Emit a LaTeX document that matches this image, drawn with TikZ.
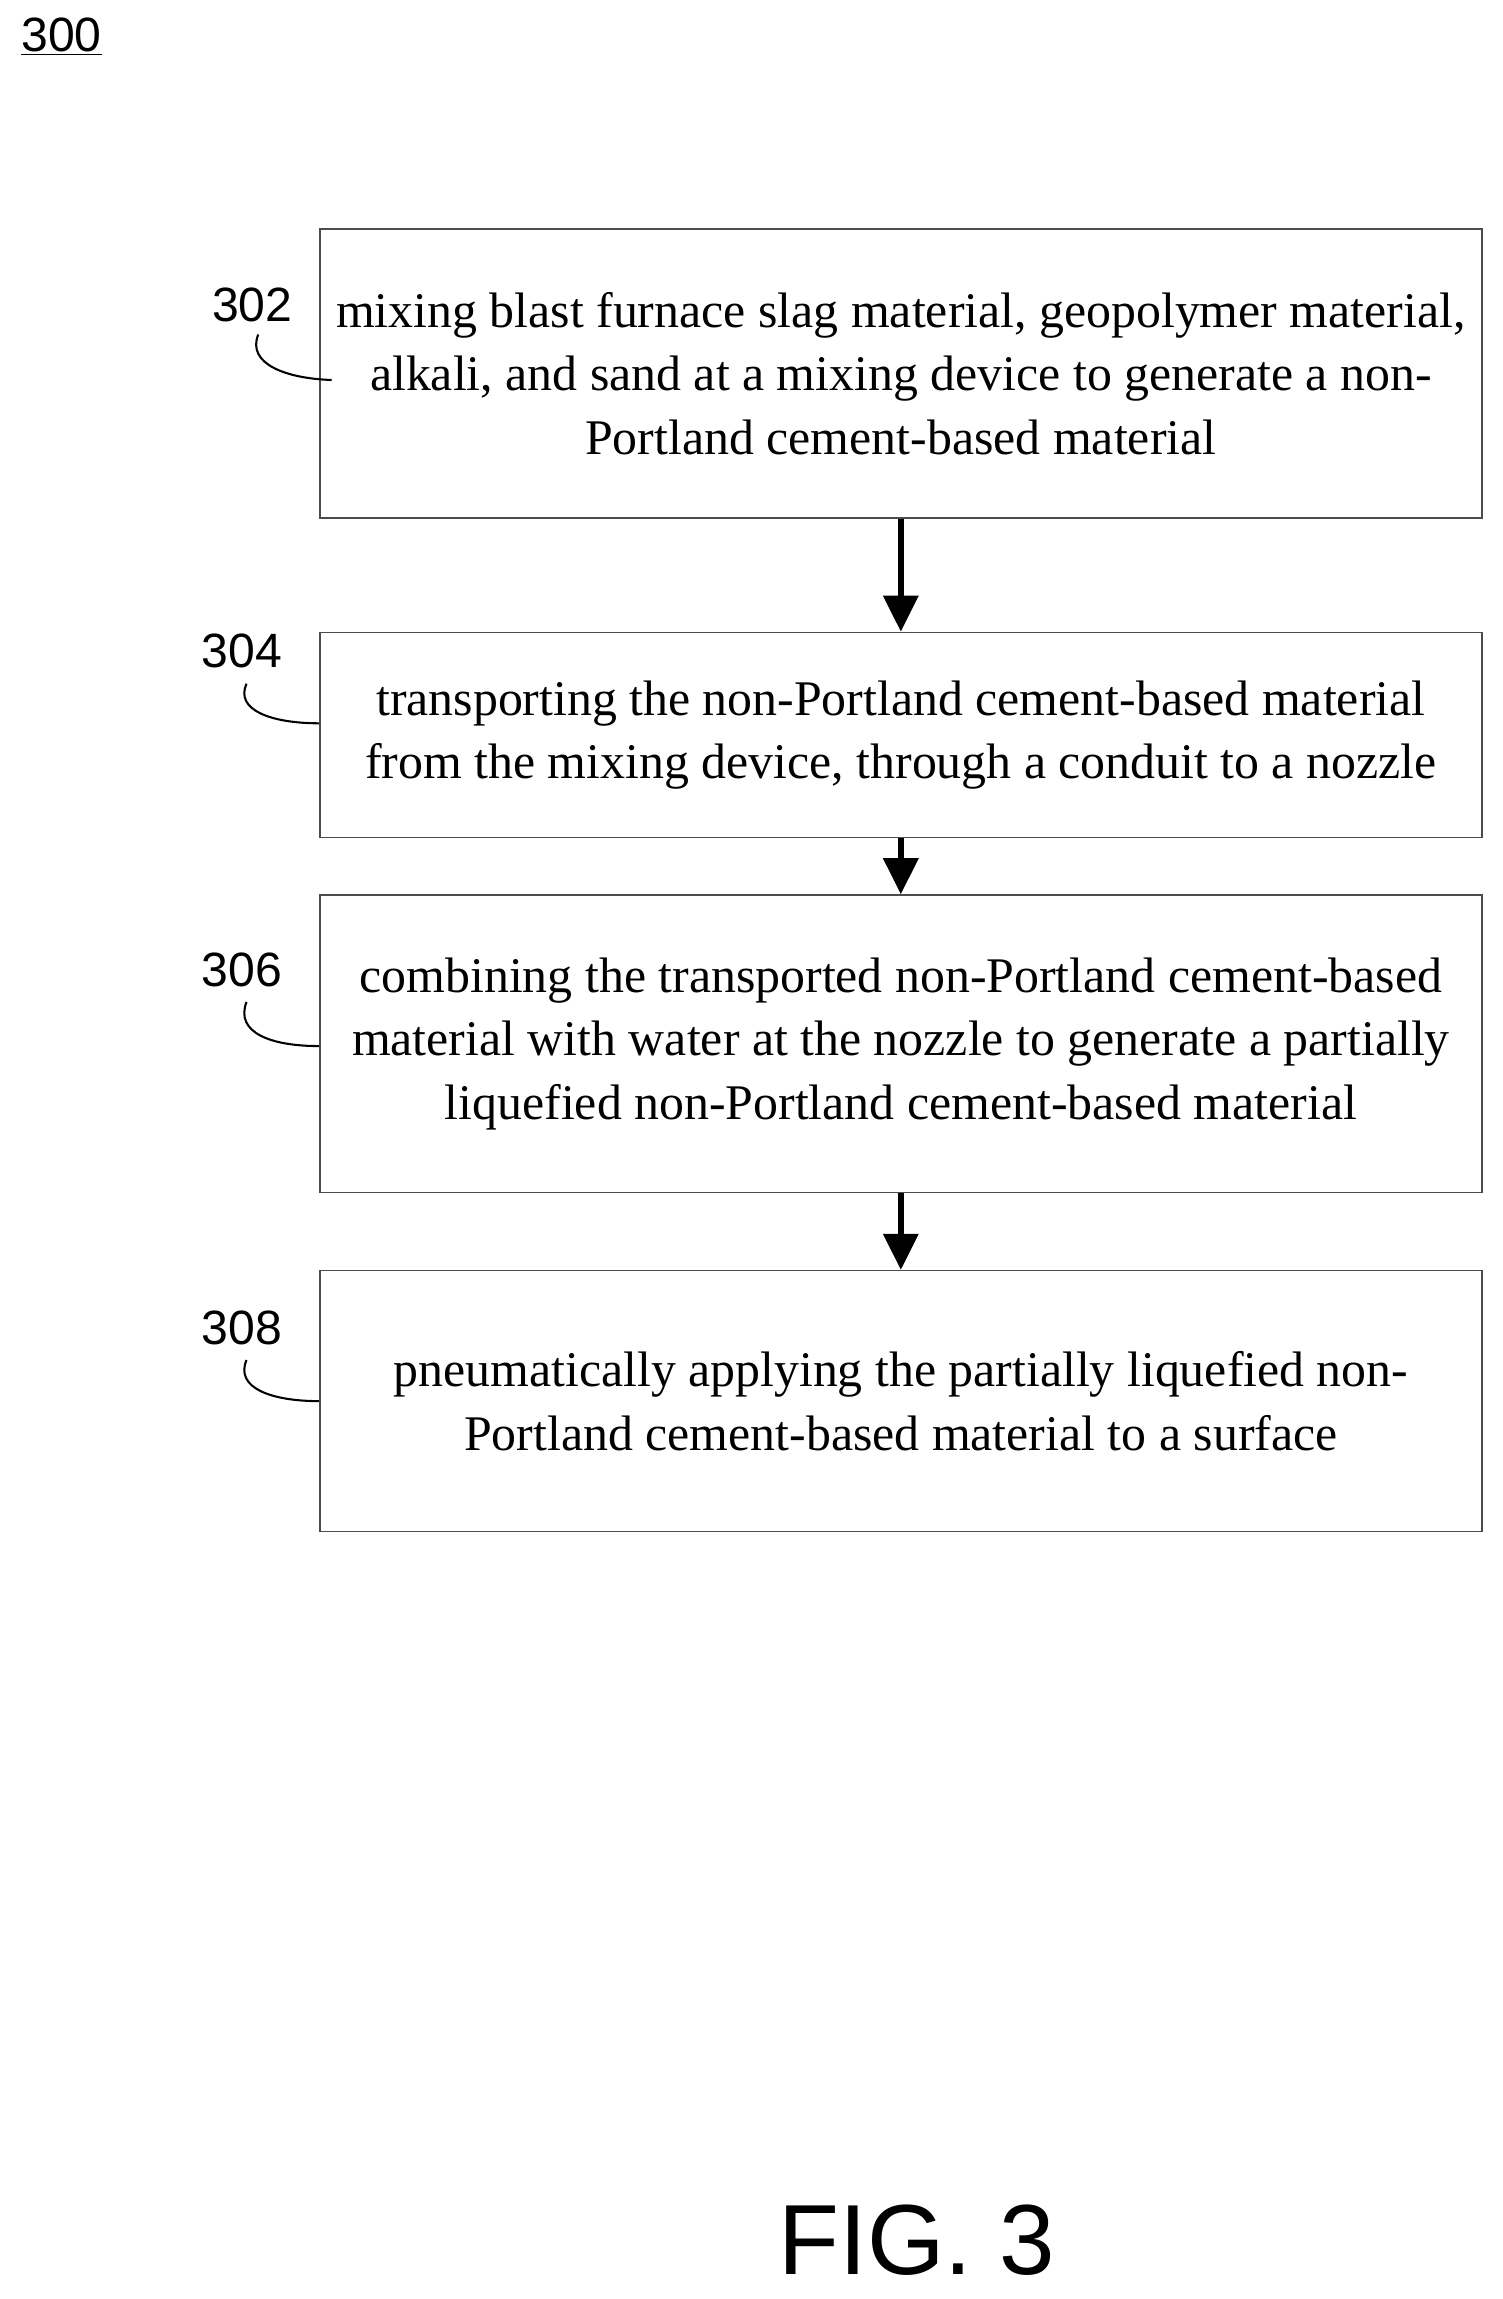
\documentclass[tikz,border=0pt]{standalone}
\usepackage{fontspec}
\setmainfont{Liberation Serif}
\newfontfamily\lab{Liberation Sans}
\usetikzlibrary{arrows.meta}
\begin{document}
\begin{tikzpicture}[x=0.03cm,y=-0.03cm,
  box/.style={draw=black!70,line width=0.8pt,minimum width=792*0.03cm,align=center,font=\fontsize{29}{37}\selectfont,inner sep=0pt},
  lbl/.style={font=\lab\fontsize{28}{30}\selectfont},
  arr/.style={line width=3.4pt,-{Triangle[length=21pt,width=20pt]}},
  lead/.style={line width=1.2pt}]
\useasboundingbox (0,0) rectangle (1024,1567);
\node[box,minimum height=197*0.03cm] (b1) at (614,254.5) {mixing blast furnace slag material, geopolymer material,\\alkali, and sand at a mixing device to generate a non-\\Portland cement-based material};
\node[box,minimum height=140*0.03cm] (b2) at (614,501) {transporting the non-Portland cement-based material\\from the mixing device, through a conduit to a nozzle};
\node[box,minimum height=203*0.03cm] (b3) at (614,711.5) {combining the transported non-Portland cement-based\\material with water at the nozzle to generate a partially\\liquefied non-Portland cement-based material};
\node[box,minimum height=178*0.03cm] (b4) at (614,955) {pneumatically applying the partially liquefied non-\\Portland cement-based material to a surface};
\draw[arr] (b1.south) -- (b2.north);
\draw[arr] (b2.south) -- (b3.north);
\draw[arr] (b3.south) -- (b4.north);
\node[lbl] (l302) at (172,208) {302};
\node[lbl] (l304) at (165,444) {304};
\node[lbl] (l306) at (165,661) {306};
\node[lbl] (l308) at (165,905) {308};
\coordinate (e302) at (226,259);
\draw[lead] (176,228) .. controls (168,248) and (195,258) .. (e302);
\draw[lead] (168,466) .. controls (160,484) and (185,493) .. (b2.west |- 0,493);
\draw[lead] (168,683) .. controls (160,704) and (185,713) .. (b3.west |- 0,713);
\draw[lead] (168,927) .. controls (160,946) and (185,955) .. (b4.west |- 0,955);
\node[lbl] (l300) at (42,25) {\underline{300}};
\node[font=\lab\fontsize{58}{64}\selectfont] (fig) at (625,1527) {FIG. 3};
\end{tikzpicture}
\end{document}
